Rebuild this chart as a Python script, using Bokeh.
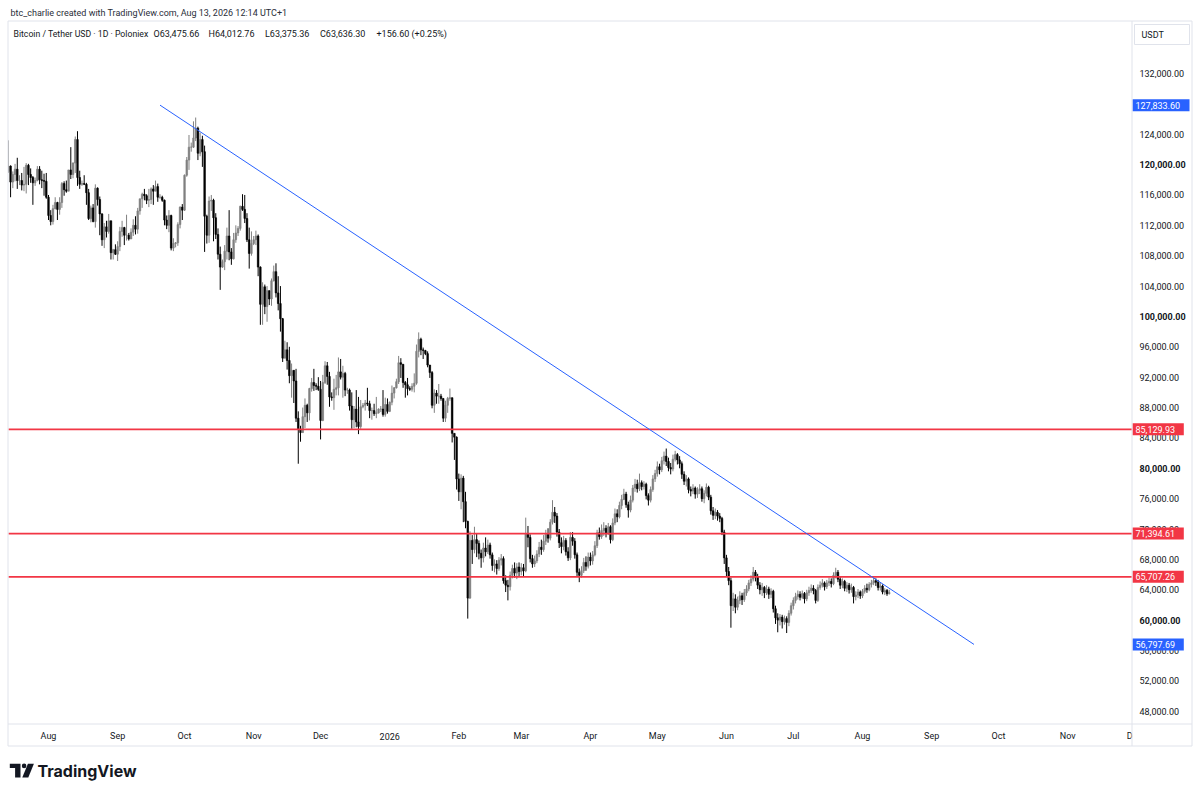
import numpy as np
import pandas as pd
from bokeh.plotting import figure
from bokeh.models import Range1d, ColumnDataSource
from bokeh.core.properties import value
from bokeh.embed import file_html
from bokeh.resources import INLINE

# ---------------- data: daily candles in thousand USDT, (close, high, low) ----------------
START_DATE = "2025-07-14"
FIRST_OPEN = 119.1

c_2025_07 = [(119.8,123.2,118.9),(117.7,119.9,115.7),(118.7,119.1,116.9),(119.4,120.1,117.8),(117.9,120.9,116.8),
             (117.9,118.6,117.3),(117.3,118.9,116.6),(117.4,119.7,116.5),(119.9,120.2,116.2),(118.7,120.1,117.3),
             (118.3,119.5,117.6),(117.6,118.5,114.7),(117.9,118.3,117.2),(119.4,119.8,117.8),(118.0,119.8,117.4),
             (117.9,119.2,116.9),(117.8,118.8,115.9),(115.7,118.9,115.5)]
c_2025_08 = [(113.3,116.0,112.7),(112.5,114.0,112.0),(114.2,114.7,112.1),(115.0,115.7,114.1),(114.1,115.1,112.7),
             (115.0,115.7,113.4),(117.5,117.7,114.3),(116.7,117.8,115.9),(116.5,117.9,116.3),(119.3,119.3,116.5),
             (118.7,122.3,118.1),(120.2,120.3,118.2),(123.3,123.7,118.9),(118.3,124.4,117.2),(117.4,119.2,116.8),
             (117.5,117.9,117.2),(117.4,118.6,117.3),(116.3,117.6,114.7),(112.9,116.8,112.7),(114.3,114.6,112.4),
             (112.5,114.8,112.4),(116.9,117.4,111.7),(115.4,117.0,114.6),(113.5,115.8,110.7),(110.1,113.6,109.3),
             (111.8,112.3,109.0),(111.2,112.6,110.4),(112.6,113.5,110.9),(108.4,112.6,107.5),(108.8,108.9,107.5),
             (108.2,109.5,108.1)]
c_2025_09 = [(109.2,109.9,107.3),(111.2,111.8,108.6),(111.7,112.6,110.5),(110.7,111.8,109.4),(110.7,113.4,110.0),
             (110.2,111.0,110.0),(111.1,111.6,110.2),(112.0,112.8,110.6),(111.5,113.2,110.8),(113.9,114.3,110.9),
             (115.5,115.5,113.4),(116.1,116.3,114.3),(115.9,116.8,115.3),(115.3,116.1,114.8),(115.4,116.8,114.4),
             (116.8,117.0,114.8),(116.5,117.3,114.7),(117.1,117.9,116.5),(115.7,117.5,115.1),(115.7,116.1,115.5),
             (115.3,115.9,115.1),(112.7,115.4,112.0),(112.0,113.3,111.5),(113.3,114.0,111.1),(109.0,113.4,108.7),
             (109.6,110.3,108.6),(109.7,109.8,109.1),(112.1,112.4,109.3),(114.4,114.5,111.6),(114.0,114.8,112.7)]
c_2025_10 = [(118.6,118.7,113.9),(120.6,121.0,118.4),(122.3,123.9,119.3),(122.3,122.9,121.7),(123.5,125.7,122.2),
             (124.8,126.2,123.1),(121.5,125.0,120.6),(123.3,124.2,121.1),(121.7,123.8,119.7),(113.2,122.5,108.5),
             (110.7,113.4,109.6),(115.2,115.8,109.7),(115.3,116.0,113.9),(113.0,115.5,109.9),(110.8,113.6,110.2),
             (108.2,111.6,107.5),(106.5,109.2,103.5),(107.2,107.5,106.4),(108.6,109.4,106.1),(110.6,111.7,107.5),
             (108.5,114.0,107.4),(107.6,109.0,106.8),(110.1,111.0,107.5),(111.0,112.0,109.7),(111.6,111.9,110.6),
             (114.5,114.6,111.3),(114.1,116.1,113.9),(112.9,116.0,112.3),(110.1,113.6,109.8),(108.3,111.7,106.3),
             (109.6,111.2,108.0)]
c_2025_11 = [(110.1,110.6,109.4),(110.6,111.3,109.4),(106.5,110.8,105.3),(101.6,106.6,98.9),(103.9,104.5,98.9),
             (101.3,104.2,100.3),(103.4,104.0,99.3),(102.3,103.4,101.5),(104.7,105.0,101.4),(105.9,106.7,104.6),
             (103.1,107.0,102.5),(101.7,105.3,100.8),(99.7,104.0,98.0),(94.5,99.8,94.0),(95.6,96.8,94.6),
             (94.2,96.6,93.0),(92.2,96.0,91.2),(92.9,93.8,89.3),(91.5,92.9,88.6),(86.6,93.1,86.1),
             (85.1,87.5,80.6),(84.7,85.6,83.5),(86.8,88.0,84.7),(88.3,89.2,85.3),(87.3,88.5,86.1),
             (90.5,90.6,86.3),(91.3,91.9,90.1),(90.9,93.1,90.2),(90.8,91.2,90.3),(90.4,92.0,90.2)]
c_2025_12 = [(86.3,91.5,83.8),(91.3,92.3,86.2),(93.5,94.1,91.1),(92.1,94.0,91.0),(89.4,92.7,88.1),
             (89.3,90.0,88.9),(90.4,91.8,87.7),(90.6,92.3,89.6),(92.7,94.6,89.6),(92.0,94.4,91.7),
             (92.5,93.5,89.3),(90.3,92.7,89.5),(90.3,90.6,89.8),(88.2,90.5,87.6),(86.4,90.0,85.2),
             (87.8,88.2,85.3),(86.1,90.3,85.4),(85.5,89.4,84.5),(88.1,89.0,85.2),(88.3,88.6,87.9),
             (88.6,89.0,87.6),(88.5,90.6,88.2),(87.6,88.9,86.6),(87.6,88.0,86.4),(87.2,88.5,86.9),
             (87.3,89.4,86.6),(87.8,87.9,87.2),(87.8,88.2,87.4),(87.1,90.3,86.8),(88.4,89.3,86.8),
             (87.5,89.2,87.2)]
c_2026_01 = [(88.7,88.8,87.4),(89.9,90.9,88.3),(90.6,90.7,89.2),(91.4,91.8,90.5),(93.9,94.8,91.1),
             (93.7,94.5,91.9),(91.3,93.6,90.6),(91.0,91.5,89.3),(90.5,91.9,89.6),(90.4,90.8,90.2),
             (90.8,91.2,90.1),(91.2,92.5,90.0),(95.4,96.3,91.0),(97.0,97.9,94.6),(95.6,97.2,94.9),
             (95.5,95.9,94.4),(95.1,95.6,94.9),(93.6,95.4,93.3),(92.6,93.4,91.9),(88.3,92.8,87.9),
             (89.9,90.4,87.3),(89.5,90.3,88.5),(89.5,91.1,88.5),(89.2,89.8,88.9),(86.6,89.2,86.1),
             (88.3,88.9,86.1),(89.2,89.4,87.3),(89.3,90.5,88.9),(84.6,89.3,83.4),(84.1,84.6,81.1),
             (78.6,84.2,77.2)]
c_2026_02 = [(76.9,79.3,75.7),(78.7,79.2,74.6),(75.6,79.0,72.9),(73.0,76.9,72.1),(62.9,73.1,60.2),
             (70.5,71.7,62.8),(69.3,71.2,67.4),(70.6,72.3,68.8),(70.1,71.4,68.3),(68.8,70.5,68.0),
             (68.2,69.3,66.9),(69.5,70.2,67.6),(69.0,70.9,68.4),(69.9,70.6,68.7),(68.6,70.2,68.1),
             (67.2,68.9,66.5),(67.4,68.0,66.3),(66.8,67.9,66.0),(67.9,68.3,66.5),(68.1,68.7,67.2),
             (65.2,68.4,64.8),(64.6,65.9,63.7),(64.4,65.3,62.6),(65.9,66.4,63.9),(66.8,67.3,65.5),
             (66.2,67.6,65.6),(67.0,67.5,65.4),(66.4,67.6,65.7)]
c_2026_03 = [(66.9,67.5,65.9),(66.5,67.4,65.8),(71.4,73.5,66.3),(70.9,72.4,69.6),(68.1,71.3,67.6),
             (67.4,68.6,66.9),(67.8,68.5,67.0),(68.7,69.2,67.5),(69.6,70.3,68.3),(69.3,70.6,68.6),
             (70.4,71.2,69.0),(71.3,71.9,69.9),(70.8,72.1,70.2),(72.9,73.3,70.5),(74.2,75.8,72.6),
             (73.7,74.9,72.8),(71.6,74.1,71.0),(70.2,72.0,69.5),(69.7,70.9,68.8),(70.5,71.1,69.2),
             (69.0,70.8,68.5),(68.2,69.6,67.8),(70.9,71.6,67.9),(70.4,71.6,69.8),(68.6,70.8,68.1),
             (66.3,68.9,65.8),(65.9,66.8,65.0),(66.5,67.1,65.6),(67.6,68.2,66.2),(67.1,68.4,66.5),
             (68.3,68.9,66.8)]
c_2026_04 = [(67.8,68.9,67.2),(68.6,69.1,67.3),(69.8,70.4,68.4),(71.5,71.9,69.5),(71.0,72.2,70.6),
             (71.8,72.6,70.7),(72.1,72.9,71.1),(71.4,72.5,70.9),(72.3,72.8,71.2),(70.6,72.5,70.1),
             (72.8,73.4,70.4),(74.0,74.7,72.5),(73.6,74.6,72.9),(75.1,75.6,73.4),(75.9,76.5,74.6),
             (76.6,77.3,75.8),(75.2,76.9,74.8),(74.5,75.6,73.5),(75.8,76.4,74.2),(77.4,77.8,75.5),
             (77.9,78.6,76.9),(77.3,78.5,76.8),(78.1,79.3,77.0),(77.6,78.4,77.1),(77.9,78.3,77.2),
             (76.4,78.1,75.9),(75.8,76.7,75.1),(77.2,77.6,75.5),(78.6,79.1,76.9),(79.3,79.8,78.2)]
c_2026_05 = [(80.2,80.9,78.9),(79.8,80.6,79.2),(81.0,81.5,79.5),(81.6,82.2,80.5),(80.9,82.6,80.3),
             (80.1,81.4,79.6),(79.9,80.7,79.2),(81.2,81.8,79.6),(81.8,82.3,80.9),(81.1,82.0,80.5),
             (80.6,81.6,80.0),(79.2,80.9,78.6),(78.3,79.6,77.8),(78.6,79.1,77.6),(77.2,78.8,76.7),
             (77.0,77.6,76.3),(77.4,77.9,76.6),(76.6,77.6,76.0),(77.1,77.5,76.1),(77.3,77.9,76.6),
             (76.0,77.6,75.6),(76.7,77.1,75.4),(77.5,78.0,76.3),(76.2,77.7,75.8),(74.4,76.5,73.9),
             (73.8,74.9,73.2),(74.2,74.7,73.3),(73.7,74.5,73.1),(73.4,74.1,72.9),(71.6,73.6,71.2),
             (68.2,71.9,67.4)]
c_2026_06 = [(66.4,68.6,65.8),(65.2,67.0,64.6),(61.9,65.6,59.0),(62.8,63.6,61.2),(61.7,63.4,60.9),
             (62.6,63.1,61.3),(63.2,63.8,62.1),(62.7,63.6,62.0),(63.6,64.1,62.4),(64.1,64.6,63.2),
             (64.9,65.3,63.8),(65.4,65.9,64.5),(66.3,67.0,65.1),(65.7,66.6,65.1),(64.6,66.1,64.1),
             (64.0,65.0,63.4),(64.3,64.9,63.2),(63.6,64.5,62.9),(64.1,64.6,63.3),(63.4,64.4,62.8),
             (63.8,64.2,62.9),(61.5,64.0,61.0),(60.3,61.9,59.5),(60.0,60.9,58.4),(60.4,60.8,59.3),
             (59.8,60.7,58.9),(60.2,60.6,59.4),(59.7,60.5,58.3),(60.9,61.3,59.2),(61.9,62.3,60.6)]
c_2026_07 = [(62.6,63.0,61.4),(63.1,63.6,62.2),(63.4,63.9,62.7),(63.0,63.8,62.6),(63.5,63.9,62.8),
             (62.8,63.7,62.2),(63.6,64.0,62.5),(63.9,64.4,63.2),(64.2,64.7,63.6),(63.9,64.6,63.4),
             (62.6,64.1,62.2),(64.3,64.7,62.4),(64.6,65.1,64.0),(64.9,65.4,64.3),(64.4,65.1,63.9),
             (64.9,65.3,64.1),(65.1,65.6,64.5),(64.8,65.5,64.3),(65.9,66.3,64.6),(66.3,66.9,65.5),
             (65.4,66.6,65.0),(64.6,65.7,64.1),(65.1,65.5,64.2),(64.2,65.3,63.8),(64.6,65.0,63.7),
             (64.0,64.9,63.5),(64.3,64.8,63.6),(63.1,64.5,62.2),(63.3,63.8,62.6),(63.7,64.1,62.9),
             (63.2,63.9,62.8)]
c_2026_08 = [(63.8,64.1,62.9),(64.2,64.6,63.5),(64.0,64.8,63.6),(64.7,65.0,63.8),(64.9,65.3,64.3),
             (65.2,65.6,64.6),(65.0,65.5,64.5),(64.3,65.3,63.9),(64.5,64.9,63.9),(63.7,64.7,63.4),
             (63.9,64.2,63.3),(63.4797,64.1,63.2),(63.6363,64.01276,63.37536)]

level_prices = [85129.93, 71394.61, 65707.26]
trend_dates = ["2025-09-20", "2026-09-20"]
trend_prices = [127833.60, 56797.69]
price_ticks = list(range(48000, 132001, 4000))
month_starts = pd.date_range("2025-08-01", "2026-12-01", freq="MS")
month_labels = ["Aug", "Sep", "Oct", "Nov", "Dec", "2026", "Feb", "Mar", "Apr",
                "May", "Jun", "Jul", "Aug", "Sep", "Oct", "Nov", "Dec"]

CREDIT = "btc_charlie created with TradingView.com, Aug 13, 2026 12:14 UTC+1"
SYMBOL = "Bitcoin / Tether USD \u00b7 1D \u00b7 Poloniex"
OHLC_PARTS = ["O63,475.66", "H64,012.76", "L63,375.36", "C63,636.30", "+156.60 (+0.25%)"]

# ---------------- build candles ----------------
rows = (c_2025_07 + c_2025_08 + c_2025_09 + c_2025_10 + c_2025_11 + c_2025_12 +
        c_2026_01 + c_2026_02 + c_2026_03 + c_2026_04 + c_2026_05 + c_2026_06 +
        c_2026_07 + c_2026_08)
n = len(rows)
dates = pd.date_range(START_DATE, periods=n, freq="D")
DAY_MS = 86400000.0


def to_ms(d):
    return (pd.DatetimeIndex(pd.to_datetime(d)).asi8 // 10**6).astype(float)


xs = to_ms(dates)
close = np.array([r[0] for r in rows]) * 1000.0
high = np.array([r[1] for r in rows]) * 1000.0
low = np.array([r[2] for r in rows]) * 1000.0
opn = np.concatenate([[FIRST_OPEN * 1000.0], close[:-1]])
high = np.maximum(high, np.maximum(opn, close))
low = np.minimum(low, np.minimum(opn, close))

UP, DOWN = "#808080", "#000000"
colors = [UP if c >= o else DOWN for o, c in zip(opn, close)]
src = ColumnDataSource(dict(x=xs, h=high, l=low,
                            top=np.maximum(opn, close), bot=np.minimum(opn, close),
                            color=colors))

# ---------------- layout (page pixels -> data) ----------------
W, H = 1196, 790
PX_PER_DAY = 2.2301
PX_PER_USD = 0.007592
ANCHOR_MS = float(pd.Timestamp("2025-08-01").value // 10**6)
ANCHOR_PX = 48.0
PRICE_ANCHOR = 132000.0
PRICE_ANCHOR_PY = 73.0


def X(px):
    return ANCHOR_MS + (px - ANCHOR_PX) / PX_PER_DAY * DAY_MS


def Y(py):
    return PRICE_ANCHOR + (PRICE_ANCHOR_PY - py) / PX_PER_USD


TXT = "#131722"
BORDER = "#e0e3eb"
RED = "#f23645"
BLUE = "#2962ff"
FONT = "Roboto"

p = figure(width=W, height=H, x_range=Range1d(X(0), X(W)), y_range=Range1d(Y(H), Y(0)),
           x_axis_location=None, y_axis_location=None, toolbar_location=None,
           output_backend="svg", min_border=0, outline_line_color=None,
           background_fill_color="white", border_fill_color="white")
p.grid.visible = False


def txt(x, y, t, size="9px", color=TXT, align="left", style="normal", font=FONT, baseline="middle"):
    p.text(x=x, y=y, text=t, text_font=value(font), text_font_size=value(size),
           text_color=color, text_align=align, text_baseline=baseline, text_font_style=style)


# candles
p.segment(x0="x", y0="h", x1="x", y1="l", line_color="color", line_width=1, source=src)
p.vbar(x="x", width=0.72 * DAY_MS, top="top", bottom="bot", fill_color="color",
       line_color="color", line_width=0.6, source=src)

# horizontal levels
p.segment(x0=[X(8)] * len(level_prices), y0=level_prices,
          x1=[X(1131.5)] * len(level_prices), y1=level_prices, line_color=RED, line_width=1.7)

# trend line
p.line(x=to_ms(trend_dates), y=trend_prices, line_color=BLUE, line_width=1)

# pane clipping on the left
p.quad(left=[X(0)], right=[X(7.5)], top=[Y(0)], bottom=[Y(H)], fill_color="white", line_color=None)

# price-axis tick labels
norm = [t for t in price_ticks if t % 20000 != 0]
bold = [t for t in price_ticks if t % 20000 == 0]
txt([X(1139)] * len(norm), norm, [f"{t:,.2f}" for t in norm])
txt([X(1139)] * len(bold), bold, [f"{t:,.2f}" for t in bold], style="bold")

# price tags
tags = [(trend_prices[0], BLUE), (level_prices[0], RED), (level_prices[1], RED),
        (level_prices[2], RED), (trend_prices[1], BLUE)]
half = 6.0 / PX_PER_USD
tag_txt = [f"{v:,.2f}" for v, _ in tags]
p.quad(left=[X(1132)] * len(tags), right=[X(1132 + 5.7 * len(s)) for s in tag_txt],
       top=[v + half for v, _ in tags], bottom=[v - half for v, _ in tags],
       fill_color=[c for _, c in tags], line_color=None)
txt([X(1135)] * len(tags), [v for v, _ in tags], tag_txt, color="white")

# currency box
p.quad(left=[X(1134)], right=[X(1189)], top=[Y(24)], bottom=[Y(44)],
       fill_color="white", line_color=BORDER, line_width=1)
txt([X(1141)], [Y(34)], ["USDT"])

# time axis labels
txt(to_ms(month_starts), [Y(735.5)] * len(month_starts), month_labels, align="center")
p.quad(left=[X(1132)], right=[X(1191)], top=[Y(725)], bottom=[Y(745)],
       fill_color="white", line_color=None)

# frame lines
bx0, bx1, by0, by1 = X(7.5), X(1191.5), Y(20.5), Y(745.5)
p.segment(x0=[bx0, bx0, bx0, bx1, X(1131.5), bx0],
          y0=[by0, by1, by0, by0, by0, Y(723.5)],
          x1=[bx1, bx1, bx0, bx1, X(1131.5), bx1],
          y1=[by0, by1, by1, by1, by1, Y(723.5)],
          line_color=BORDER, line_width=1)

# header texts
txt([X(10)], [Y(12)], [CREDIT], color="#2a2e39")
txt([X(13)], [Y(33.5)], [SYMBOL], size="8.7px")
ohlc_px = [153.0, 208.0, 264.5, 319.5, 376.0]
txt([X(v) for v in ohlc_px], [Y(33.5)] * len(OHLC_PARTS), OHLC_PARTS)

# TradingView logo
p.patch(x=[X(v) for v in [9.3, 20.0, 20.0, 14.6, 14.6, 9.3]],
        y=[Y(v) for v in [763.3, 763.3, 777.0, 777.0, 767.6, 767.6]],
        fill_color=TXT, line_color=None)
p.scatter(x=[X(23.6)], y=[Y(765.4)], size=4.6, marker="circle", fill_color=TXT, line_color=None)
p.patch(x=[X(v) for v in [27.4, 33.4, 27.8, 21.8]],
        y=[Y(v) for v in [763.3, 763.3, 777.0, 777.0]],
        fill_color=TXT, line_color=None)
txt([X(37)], [Y(770.5)], ["TradingView"], size="16px", style="bold", font="Inter")

open("out.html", "w").write(file_html(p, INLINE))
